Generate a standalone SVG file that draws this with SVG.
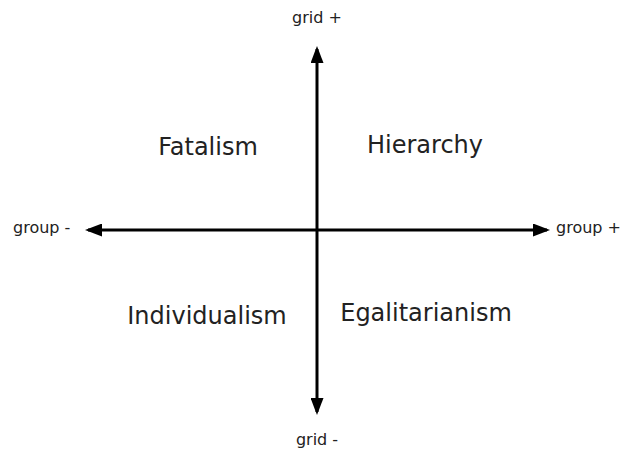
<svg xmlns="http://www.w3.org/2000/svg" width="624" height="452" viewBox="0 0 624 452">
<style>
.ax{stroke:#000;stroke-width:3;fill:none}
.q{font-family:"DejaVu Sans",sans-serif;font-size:24px;fill:#222;text-anchor:middle}
.s{font-family:"DejaVu Sans",sans-serif;font-size:16px;fill:#222}
</style>
<defs>
<marker id="ah" viewBox="0 0 17 13" refX="14" refY="6.5" markerWidth="17" markerHeight="13" markerUnits="userSpaceOnUse" orient="auto">
<path d="M0,0 L17,6.5 L0,13 z" fill="#000"/>
</marker>
</defs>
<rect width="624" height="452" fill="#fff"/>
<g id="connectors">
<path class="ax" d="M317,230 L317,49" marker-end="url(#ah)"/>
<path class="ax" d="M317,230 L317,412" marker-end="url(#ah)"/>
<path class="ax" d="M317,230 L88,230" marker-end="url(#ah)"/>
<path class="ax" d="M317,230 L547,230" marker-end="url(#ah)"/>
</g>
<g id="fatalism"><text class="q" x="208" y="155">Fatalism</text></g>
<g id="hierarchy"><text class="q" x="425" y="153">Hierarchy</text></g>
<g id="individualism"><text class="q" x="207" y="324">Individualism</text></g>
<g id="egalitarianism"><text class="q" x="426" y="321">Egalitarianism</text></g>
<g id="grid-plus"><text class="s" x="317" y="23" text-anchor="middle">grid +</text></g>
<g id="grid-minus"><text class="s" x="317" y="445" text-anchor="middle">grid -</text></g>
<g id="group-minus"><text class="s" x="13" y="233">group -</text></g>
<g id="group-plus"><text class="s" x="556" y="233">group +</text></g>
</svg>
